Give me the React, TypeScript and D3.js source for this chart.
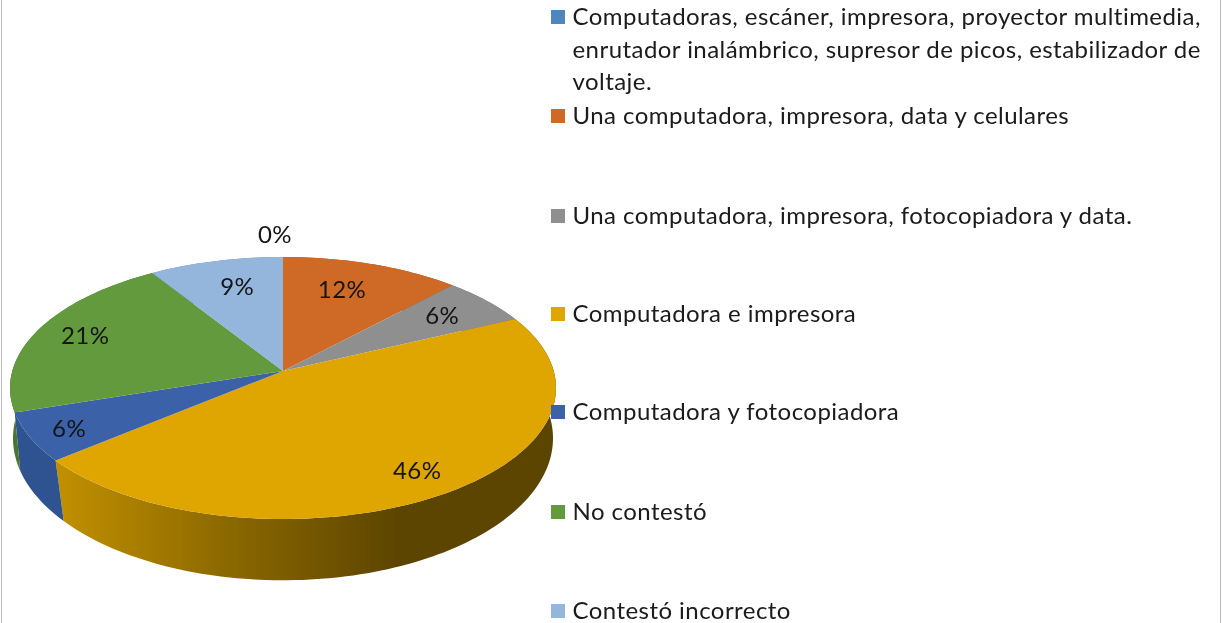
import React from "react";
import * as d3 from "d3";

const categories = [
  "Computadoras, escáner, impresora, proyector multimedia, enrutador inalámbrico, supresor de picos, estabilizador de voltaje.",
  "Una computadora, impresora, data y celulares",
  "Una computadora, impresora, fotocopiadora y data.",
  "Computadora e impresora",
  "Computadora y fotocopiadora",
  "No contestó",
  "Contestó incorrecto",
];
const legendLines = [
  ["Computadoras, escáner, impresora, proyector multimedia,", "enrutador inalámbrico, supresor de picos, estabilizador de", "voltaje."],
  ["Una computadora, impresora, data y celulares"],
  ["Una computadora, impresora, fotocopiadora y data."],
  ["Computadora e impresora"],
  ["Computadora y fotocopiadora"],
  ["No contestó"],
  ["Contestó incorrecto"],
];
const values = [0, 12, 6, 46, 6, 21, 9];
const topColors = ["#4f86bd", "#cf6b28", "#8f8f8f", "#dfa500", "#3a62a8", "#629a3e", "#94b6dd"];
const wallColors = ["#3c6690", "#9c5120", "#6d6d6d", "#a87c00", "#2f5290", "#4a752f", "#7089a8"];

const legendRowY = [17, 116, 216, 314, 412, 512, 611];
const labelRadius = [1.23, 0.72, 0.78, 0.84, 0.85, 0.8, 0.75];
const labelShiftX = [-8, -7, -2, 0, -1, -1, 6];
const labelShiftY = [0, -2, 0, -1, 2, -2, 0];

const W = 1225;
const H = 623;
const FONT = "Lato, Carlito, Calibri, sans-serif";

type Proj = { x0: number; y0: number; a: number; b: number; k: number };
const topDisc: Proj = { x0: 283, y0: 371, a: 128.8, b: 270.7, k: 0.1298 };
const lowDisc: Proj = { x0: 283, y0: 426, a: 141, b: 269, k: 0.086 };

function project(p: Proj, angle: number, r = 1): [number, number] {
  const u = r * Math.sin(angle);
  const v = -r * Math.cos(angle);
  const w = 1 - p.k * v;
  return [p.x0 + (p.b * u) / w, p.y0 + (p.a * v) / w];
}

function arcPoints(p: Proj, a0: number, a1: number): [number, number][] {
  const n = Math.max(2, Math.ceil(Math.abs(a1 - a0) * 40));
  return d3.range(n + 1).map((i) => project(p, a0 + ((a1 - a0) * i) / n));
}

const line = d3.line<[number, number]>();

export default function App() {
  const arcs = d3.pie<number>().sort(null).startAngle(0).endAngle(2 * Math.PI)(values);
  return (
    <svg
      width={W}
      height={H}
      viewBox={`0 0 ${W} ${H}`}
      style={{ position: "absolute", left: 0, top: 0, background: "#fff", display: "block" }}
      fontFamily={FONT}
    >
      <defs>
        <linearGradient id="wall3" gradientUnits="userSpaceOnUse" x1={62} x2={400} y1={0} y2={0}>
          <stop offset="0" stopColor="#c08f00" />
          <stop offset="0.5" stopColor="#8a6800" />
          <stop offset="1" stopColor="#5c4400" />
        </linearGradient>
        <filter id="soft" x="0" y="0" width="100%" height="100%">
          <feGaussianBlur stdDeviation="0.4" />
        </filter>
      </defs>
      <g filter="url(#soft)">
        <rect x={1} y={-2} width={1220} height={H + 4} fill="none" stroke="#a6a6a6" strokeWidth={1.5} />
        {arcs.map((d, i) => {
          if (d.endAngle - d.startAngle === 0) return null;
          const top = arcPoints(topDisc, d.startAngle, d.endAngle);
          const low = arcPoints(lowDisc, d.startAngle, d.endAngle).reverse();
          return (
            <path
              key={"wall" + i}
              d={line([...top, ...low]) + "Z"}
              fill={i === 3 ? "url(#wall3)" : wallColors[i]}
            />
          );
        })}
        {arcs.map((d, i) => {
          if (d.endAngle - d.startAngle === 0) return null;
          const pts: [number, number][] = [[topDisc.x0, topDisc.y0], ...arcPoints(topDisc, d.startAngle, d.endAngle)];
          return <path key={"top" + i} d={line(pts) + "Z"} fill={topColors[i]} />;
        })}
        {arcs.map((d, i) => {
          const mid = (d.startAngle + d.endAngle) / 2;
          const [x, y] = project(topDisc, mid, labelRadius[i]);
          return (
            <text
              key={"lab" + i}
              x={x + labelShiftX[i]}
              y={y + labelShiftY[i]}
              dy="0.35em"
              textAnchor="middle"
              fontSize={24}
              letterSpacing={0.4}
              fill="#141414"
            >
              {d3.format(".0%")(values[i] / d3.sum(values))}
            </text>
          );
        })}
        {categories.map((c, i) => (
          <g key={c}>
            <rect x={551} y={legendRowY[i] - 7} width={14} height={14} fill={topColors[i]} />
            {legendLines[i].map((t, j) => (
              <text
                key={j}
                x={572.5}
                y={legendRowY[i] + j * 32.5}
                dy="0.35em"
                fontSize={24}
                letterSpacing={0.45}
                fill="#1a1a1a"
              >
                {t}
              </text>
            ))}
          </g>
        ))}
      </g>
    </svg>
  );
}
